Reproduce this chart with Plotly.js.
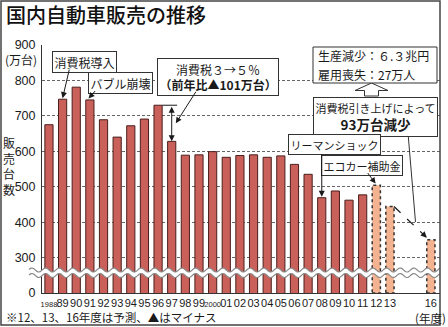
<!DOCTYPE html>
<html><head><meta charset="utf-8">
<script src="https://cdn.plot.ly/plotly-3.0.1.min.js"></script>
<style>html,body{margin:0;padding:0;background:#fff;}#chart{width:448px;height:327px;}</style>
</head><body><div id="chart"></div>
<script>
// ---- data ----
const actualYears = [1988,1989,1990,1991,1992,1993,1994,1995,1996,1997,1998,1999,2000,2001,2002,2003,2004,2005,2006,2007,2008,2009,2010,2011];
const actualSales = [675,747,781,745,689,640,672,691,730,628,589,590,599,583,588,590,583,587,563,535,469,488,462,477];
const forecastYears = [2012,2013,2016];
const forecastSales = [504,444,350];
const xTickYears = actualYears.concat(forecastYears);
const xTickLabels = ['1988','89','90','91','92','93','94','95','96','97','98','99','2000','01','02','03','04','05','06','07','08','09','10','11','12','13','16'];
const yTickVals = [200,300,400,500,600,700,800,900];
const yTickLabels = ['0','300','400','500','600','700','800','900'];

// ---- geometry helpers (pixel -> paper) ----
const L=42,R=440,T=45,B=293;
const px = v => (v-L)/(R-L);
const py = v => (B-v)/(B-T);
const JP = '"Noto Sans CJK JP", sans-serif';
const NUM = '"Liberation Sans", "Noto Sans CJK JP", sans-serif';
const INK = '#1a1a1a';

const tickText = xTickLabels.map(s => s.length===4 ? '<span style="font-size:7.5px">'+s+'</span>' : s);

const traces = [
  {type:'bar', x:actualYears, y:actualSales, width:0.6,
   marker:{color:'#c9605a', line:{color:'#4a1f1d', width:1}}, hoverinfo:'skip'},
  {type:'bar', x:forecastYears, y:forecastSales, width:0.6,
   marker:{color:'#f3b391', line:{width:0}}, hoverinfo:'skip'}
];

const shapes = [];
forecastYears.forEach((yr,i)=>{
  shapes.push({type:'rect', xref:'x', yref:'y', x0:yr-0.3, x1:yr+0.3, y0:200, y1:forecastSales[i],
    line:{color:'#333', width:1.5, dash:'dot'}, fillcolor:'rgba(0,0,0,0)', layer:'above'});
});
shapes.push({type:'line', xref:'x', yref:'y', x0:actualYears[8]+0.3, x1:actualYears[9]+0.4, y0:actualSales[8], y1:actualSales[8], line:{color:INK,width:1}});
shapes.push({type:'line', xref:'x', yref:'y', x0:forecastYears[1]+0.3, y0:forecastSales[1], x1:forecastYears[2]-0.35, y1:forecastSales[2]+8, line:{color:INK,width:1.2,dash:'dash'}});
shapes.push({type:'line', xref:'paper', yref:'paper', x0:px(408), y0:py(133), x1:px(415.5), y1:py(222), line:{color:'#333',width:1}});
const ha = [[371.5,83],[388,90.5],[378.5,90.5],[378.5,96],[364.5,96],[364.5,90.5],[355,90.5]];
shapes.push({type:'path', xref:'paper', yref:'paper', path:'M'+ha.map(p=>px(p[0])+','+py(p[1])).join('L')+'Z', fillcolor:'#fff', line:{color:'#333',width:1}});
shapes.push({type:'rect', xref:'paper', yref:'paper', x0:px(313), x1:px(437), y0:py(47), y1:py(83), fillcolor:'#fff', line:{color:'#333',width:1}});
function wave(center, amp, x0, x1, period){
  const pts=[]; for(let x=x0;x<=x1+0.01;x+=1){pts.push([x, center + amp*Math.sin(2*Math.PI*(x-49)/period)]);} return pts;
}
const up = wave(270,2,29,440,13.64), lo = wave(275.5,2,29,440,13.64);
const toP = p => px(p[0])+','+py(p[1]);
shapes.push({type:'path', xref:'paper', yref:'paper', layer:'above',
  path:'M'+up.map(toP).join('L')+'L'+lo.slice().reverse().map(toP).join('L')+'Z', fillcolor:'#fff', line:{width:0}});
shapes.push({type:'path', xref:'paper', yref:'paper', layer:'above', path:'M'+up.map(toP).join('L'), line:{color:'#8a8a8a',width:1.2}});
shapes.push({type:'path', xref:'paper', yref:'paper', layer:'above', path:'M'+lo.map(toP).join('L'), line:{color:'#8a8a8a',width:1.2}});
shapes.push({type:'rect', xref:'paper', yref:'paper', x0:px(1), x1:px(440), y0:py(1), y1:py(325), line:{color:'#444',width:1.5}, fillcolor:'rgba(0,0,0,0)'});

const box = {bordercolor:'#333', borderwidth:1, bgcolor:'#fff', borderpad:1.5, showarrow:false, xref:'paper', yref:'paper', xanchor:'center', yanchor:'middle'};
const plain = {showarrow:false, xref:'paper', yref:'paper', yanchor:'middle'};
const annotations = [
  Object.assign({text:'国内自動車販売の推移', x:px(4), y:py(14), xanchor:'left', font:{family:JP,size:20,color:'#111',weight:500}}, plain),
  Object.assign({text:'(万台)', x:px(21), y:py(60), xanchor:'center', font:{family:JP,size:12,color:INK}}, plain),
  Object.assign({text:'※12、13、16年度は予測、▲はマイナス', x:px(4), y:py(317), xanchor:'left', font:{family:JP,size:11.5,color:INK}}, plain),
  Object.assign({text:'(年度)', x:px(430), y:py(318), xanchor:'center', font:{family:JP,size:11.5,color:INK}}, plain),
  Object.assign({text:'販<br>売<br>台<br>数', x:px(9), y:py(166), xanchor:'center', font:{family:JP,size:12,color:INK}}, plain),
  Object.assign({text:'生産減少：６.３兆円', x:px(316), y:py(56), xanchor:'left', font:{family:JP,size:12,color:INK}}, plain),
  Object.assign({text:'雇用喪失：27万人', x:px(316), y:py(74.5), xanchor:'left', font:{family:JP,size:12,color:INK}}, plain),
  Object.assign({text:'消費税導入', x:px(84.5), y:py(61.5), font:{family:JP,size:12,color:INK}}, box),
  Object.assign({text:'バブル崩壊', x:px(120), y:py(83), font:{family:JP,size:12,color:INK}}, box),
  Object.assign({text:'消費税３→５％<br><b>（前年比▲101万台）</b>', x:px(218), y:py(76.5), font:{family:JP,size:12,color:INK}}, box),
  Object.assign({text:'<span style="font-size:11px">消費税引き上げによって</span><br><b>93万台減少</b>', x:px(375.5), y:py(116.5), font:{family:JP,size:13.5,color:INK}}, box),
  Object.assign({text:'リーマンショック', x:px(334.5), y:py(144.5), font:{family:JP,size:11,color:INK}}, box),
  Object.assign({text:'エコカー補助金', x:px(362), y:py(165), font:{family:JP,size:11,color:INK}}, box),
];
const arr = {text:'', showarrow:true, arrowhead:2, arrowsize:1.2, arrowwidth:1, arrowcolor:INK, standoff:0, xref:'x', yref:'y'};
annotations.push(Object.assign({}, arr, {x:actualYears[1], y:actualSales[1]+3, ax:7, ay:-30}));
annotations.push(Object.assign({}, arr, {x:actualYears[3]-0.1, y:actualSales[3]+4, ax:8, ay:-9}));
annotations.push(Object.assign({}, arr, {x:actualYears[9]+0.3, y:(actualSales[8]+actualSales[9])/2, ax:21, ay:-33}));
annotations.push(Object.assign({}, arr, {x:actualYears[9], y:actualSales[9], ax:actualYears[9], ay:actualSales[8], axref:'x', ayref:'y', arrowside:'end+start'}));
annotations.push(Object.assign({}, arr, {x:actualYears[20], y:actualSales[20]+3, ax:0, ay:-44}));
annotations.push(Object.assign({}, arr, {x:forecastYears[0]-0.05, y:forecastSales[0]+5, ax:-9, ay:-12}));
annotations.push(Object.assign({}, arr, {x:forecastYears[2]-0.3, y:forecastSales[2]+6, ax:-6, ay:-6}));

const layout = {
  width:448, height:327, margin:{l:L, r:448-R, t:T, b:327-B},
  paper_bgcolor:'#fff', plot_bgcolor:'#fff', showlegend:false, barmode:'overlay',
  xaxis:{range:[1987.49,2016.67], tickvals:xTickYears, ticktext:tickText, showgrid:false, zeroline:false,
    showline:true, linecolor:'#333', linewidth:1, ticks:'', ticklabelstandoff:0, tickangle:0,
    tickfont:{family:NUM, size:11, color:INK}, fixedrange:true},
  yaxis:{range:[200,900], tickvals:yTickVals, ticktext:yTickLabels, showgrid:true, gridcolor:'#666', gridwidth:1, griddash:'3px,2px',
    zeroline:false, showline:true, linecolor:'#333', linewidth:1, ticks:'', ticklabelstandoff:3,
    tickfont:{family:NUM, size:12.5, color:INK}, fixedrange:true},
  shapes:shapes, annotations:annotations
};
Plotly.newPlot('chart', traces, layout, {staticPlot:true, displayModeBar:false});
</script>
</body></html>
